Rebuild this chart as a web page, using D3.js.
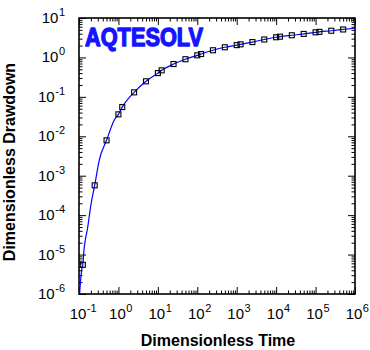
<!DOCTYPE html>
<html>
<head>
<meta charset="utf-8">
<script src="https://cdn.jsdelivr.net/npm/d3@7"></script>
<style>
  html, body { margin: 0; padding: 0; background: #fff; }
  svg { display: block; }
  text { font-family: Arial, "Liberation Sans", sans-serif; }
</style>
</head>
<body>
<svg id="chart" width="370" height="350"></svg>
<script>
// ---- data ----
const pointTime = [0.125, 0.25, 0.5, 1, 1.25, 2.5, 5, 10, 12.5, 25, 50, 100, 125, 250, 500,
  1000, 1250, 2500, 5000, 10000, 12500, 25000, 50000, 100000, 125000, 250000, 500000];
const pointDrawdown = [5.5e-6, 5.7e-4, 7.9e-3, 0.036, 0.055, 0.13, 0.248, 0.40, 0.47, 0.68, 0.90,
  1.13, 1.22, 1.52, 1.81, 2.05, 2.15, 2.45, 2.85, 3.25, 3.36, 3.65, 3.95, 4.33, 4.45, 4.75, 5.12];

const curveTime = [0.104, 0.110, 0.117, 0.125, 0.134, 0.1445, 0.162, 0.2, 0.25, 0.327, 0.5, 0.785,
  1, 1.25, 2.5, 5, 10, 12.5, 25, 50, 100, 125, 250, 500, 1000, 1250, 2500, 5000, 10000, 12500,
  25000, 50000, 100000, 125000, 250000, 500000, 1000000];
const curveDrawdown = [1.05e-6, 2.26e-6, 4.1e-6, 5.5e-6, 1.32e-5, 2.34e-5, 4.2e-5, 1.8e-4, 5.7e-4,
  2.5e-3, 7.9e-3, 0.0259, 0.036, 0.055, 0.13, 0.248, 0.40, 0.47, 0.68, 0.90, 1.13, 1.22, 1.52,
  1.81, 2.05, 2.15, 2.45, 2.85, 3.25, 3.36, 3.65, 3.95, 4.33, 4.45, 4.75, 5.12, 5.5];

const xTickExponents = [-1, 0, 1, 2, 3, 4, 5, 6];
const yTickExponents = [-6, -5, -4, -3, -2, -1, 0, 1];
const xTitle = "Dimensionless Time";
const yTitle = "Dimensionless Drawdown";
const logoText = "AQTESOLV";

// ---- layout ----
const svg = d3.select("#chart");
const L = 79, R = 355, T = 18, B = 294;
const x = d3.scaleLog().domain([0.1, 1e6]).range([L, R]);
const y = d3.scaleLog().domain([1e-6, 10]).range([B, T]);

function minorValues(scale) {
  const [a, b] = scale.domain();
  const out = [];
  for (let e = Math.round(Math.log10(a)); e < Math.round(Math.log10(b)); e++) {
    for (let m = 2; m <= 9; m++) out.push(m * Math.pow(10, e));
  }
  return out;
}
const xMajor = xTickExponents.map(e => Math.pow(10, e));
const yMajor = yTickExponents.map(e => Math.pow(10, e));
const MAJ = 7, MIN = 3.5;

function drawAxis(makeAxis, transform, major, minor) {
  const g1 = svg.append("g").attr("transform", transform)
    .call(makeAxis().tickValues(major).tickSize(-MAJ).tickFormat(""));
  const g2 = svg.append("g").attr("transform", transform)
    .call(makeAxis().tickValues(minor).tickSize(-MIN).tickFormat(""));
  [g1, g2].forEach(g => {
    g.select(".domain").remove();
    g.selectAll("line").attr("stroke", "#000").attr("stroke-width", 1);
  });
}
drawAxis(() => d3.axisBottom(x), `translate(0,${B})`, xMajor, minorValues(x));
drawAxis(() => d3.axisTop(x), `translate(0,${T})`, xMajor, minorValues(x));
drawAxis(() => d3.axisLeft(y), `translate(${L},0)`, yMajor, minorValues(y));
drawAxis(() => d3.axisRight(y), `translate(${R},0)`, yMajor, minorValues(y));

// frame
svg.append("rect").attr("x", L).attr("y", T).attr("width", R - L).attr("height", B - T)
  .attr("fill", "none").attr("stroke", "#000").attr("stroke-width", 1.6);

// x tick labels
xTickExponents.forEach(e => {
  const tx = x(Math.pow(10, e));
  const base = svg.append("text").attr("x", tx - 1).attr("y", 319)
    .attr("text-anchor", "middle").attr("font-size", 15).text("10");
  const w = base.node().getComputedTextLength();
  svg.append("text").attr("x", tx - 1 + w / 2 + 0.5).attr("y", 312)
    .attr("font-size", 11).text(String(e));
});
// y tick labels
yTickExponents.forEach(e => {
  const ty = y(Math.pow(10, e));
  const ex = svg.append("text").attr("x", 65).attr("y", ty - 2)
    .attr("text-anchor", "end").attr("font-size", 11).text(String(e));
  const w = ex.node().getComputedTextLength();
  svg.append("text").attr("x", 65 - w - 0.5).attr("y", ty + 5)
    .attr("text-anchor", "end").attr("font-size", 15).text("10");
});

// titles
svg.append("text").attr("x", 218).attr("y", 346).attr("text-anchor", "middle")
  .attr("font-size", 16).attr("font-weight", "bold").text(xTitle);
svg.append("text").attr("transform", "translate(14.5,162) rotate(-90)")
  .attr("text-anchor", "middle").attr("font-size", 16).attr("font-weight", "bold").text(yTitle);

// logo
svg.append("text").attr("x", 85).attr("y", 45.5).attr("font-size", 26)
  .attr("font-weight", "bold").attr("fill", "#1414ff").attr("stroke", "#1414ff")
  .attr("stroke-width", 1.4).attr("stroke-linejoin", "round")
  .attr("textLength", 118).attr("lengthAdjust", "spacingAndGlyphs")
  .text(logoText);

// curve
svg.append("clipPath").attr("id", "clip").append("rect")
  .attr("x", L).attr("y", T).attr("width", R - L).attr("height", B - T);
const curveData = curveTime.map((t, i) => [t, curveDrawdown[i]]);
svg.append("path").datum(curveData)
  .attr("clip-path", "url(#clip)")
  .attr("fill", "none").attr("stroke", "#0000ff").attr("stroke-width", 1.2)
  .attr("d", d3.line().x(d => x(d[0])).y(d => y(d[1])).curve(d3.curveMonotoneX));

// points
const S = 5;
svg.append("g").selectAll("rect").data(pointTime.map((t, i) => [t, pointDrawdown[i]]))
  .join("rect")
  .attr("x", d => x(d[0]) - S / 2).attr("y", d => y(d[1]) - S / 2)
  .attr("width", S).attr("height", S)
  .attr("fill", "none").attr("stroke", "#000").attr("stroke-width", 1.1);
</script>
</body>
</html>
